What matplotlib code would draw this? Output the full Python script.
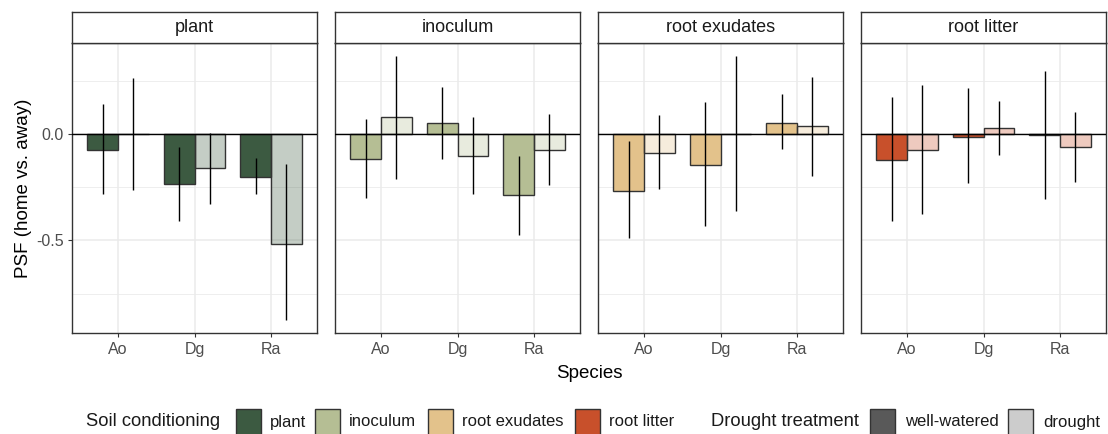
import numpy as np
import matplotlib.pyplot as plt
from matplotlib.patches import Rectangle

plt.rcParams['font.family'] = ['Liberation Sans', 'DejaVu Sans']
plt.rcParams['axes.unicode_minus'] = False

species = ['Ao', 'Dg', 'Ra']
conditioning = ['plant', 'inoculum', 'root exudates', 'root litter']
cond_colors = ['#3C5A41', '#B5BE94', '#E3C28B', '#C8502B']
drought_labels = ['well-watered', 'drought']
drought_colors = ['#595959', '#CCCCCC']

# mean PSF per conditioning, well-watered / drought
ww_mean = {
    'plant': [-0.074, -0.233, -0.201],
    'inoculum': [-0.118, 0.049, -0.288],
    'root exudates': [-0.267, -0.145, 0.053],
    'root litter': [-0.123, -0.013, -0.006],
}
dr_mean = {
    'plant': [0.0, -0.162, -0.516],
    'inoculum': [0.077, -0.105, -0.074],
    'root exudates': [-0.091, 0.0, 0.036],
    'root litter': [-0.074, 0.027, -0.061],
}
# error bar limits (low, high)
ww_lo = {
    'plant': [-0.284, -0.407, -0.280],
    'inoculum': [-0.302, -0.119, -0.473],
    'root exudates': [-0.489, -0.434, -0.069],
    'root litter': [-0.407, -0.231, -0.308],
}
ww_hi = {
    'plant': [0.138, -0.060, -0.115],
    'inoculum': [0.072, 0.220, -0.104],
    'root exudates': [-0.033, 0.149, 0.187],
    'root litter': [0.171, 0.215, 0.297],
}
dr_lo = {
    'plant': [-0.263, -0.329, -0.874],
    'inoculum': [-0.214, -0.284, -0.241],
    'root exudates': [-0.258, -0.362, -0.197],
    'root litter': [-0.374, -0.097, -0.225],
}
dr_hi = {
    'plant': [0.264, 0.006, -0.142],
    'inoculum': [0.363, 0.077, 0.093],
    'root exudates': [0.088, 0.363, 0.269],
    'root litter': [0.231, 0.156, 0.104],
}

W, H = 1108, 434
fig = plt.figure(figsize=(W / 100, H / 100), dpi=100)

panel_x = [72, 335, 598, 861]
panel_w = 245
top, bottom, strip_top = 43.3, 333.3, 11.7

all_vals = np.concatenate([np.ravel(list(d.values())) for d in (ww_lo, ww_hi, dr_lo, dr_hi)])
rng = all_vals.max() - all_vals.min()
ylim = (all_vals.min() - 0.05 * rng, all_vals.max() + 0.05 * rng)

x = np.arange(len(species))
edge = '#333333'
for k, cond in enumerate(conditioning):
    ax = fig.add_axes([panel_x[k] / W, 1 - bottom / H, panel_w / W, (bottom - top) / H])
    ax.set_xlim(-0.6, 2.6)
    ax.set_ylim(*ylim)
    ax.set_yticks([-0.5, 0.0])
    ax.set_yticks([-0.75, -0.25, 0.25], minor=True)
    ax.set_xticks(x)
    ax.set_xticklabels(species)
    ax.grid(which='major', color='#EBEBEB', lw=1.1)
    ax.grid(which='minor', axis='y', color='#EBEBEB', lw=0.6)
    ax.set_axisbelow(True)
    ax.tick_params(which='minor', length=0)
    ax.tick_params(which='major', length=3, color=edge, labelsize=11.5,
                   labelcolor='#4D4D4D', pad=3)
    if k > 0:
        ax.set_yticklabels([])
        ax.tick_params(axis='y', length=0)
    for s in ax.spines.values():
        s.set_color(edge)
        s.set_linewidth(1.0)

    ax.bar(x - 0.2, ww_mean[cond], width=0.4, color=cond_colors[k],
           edgecolor=edge, lw=1.0, zorder=2)
    ax.bar(x + 0.2, dr_mean[cond], width=0.4, color=cond_colors[k], alpha=0.3,
           zorder=2)
    ax.bar(x + 0.2, dr_mean[cond], width=0.4, fill=False,
           edgecolor=edge, lw=1.0, zorder=2)
    ax.axhline(0, color='black', lw=1.0, zorder=3)
    ax.vlines(x - 0.2, ww_lo[cond], ww_hi[cond], color='black', lw=1.0, zorder=4)
    ax.vlines(x + 0.2, dr_lo[cond], dr_hi[cond], color='black', lw=1.0, zorder=4)

    sax = fig.add_axes([panel_x[k] / W, 1 - top / H, panel_w / W, (top - strip_top) / H])
    sax.set_xticks([])
    sax.set_yticks([])
    for s in sax.spines.values():
        s.set_color(edge)
        s.set_linewidth(1.0)
    sax.text(0.5, 0.5, cond, ha='center', va='center', fontsize=13,
             color='#1A1A1A', transform=sax.transAxes)

    if k == 0:
        ax.set_ylabel('PSF (home vs. away)', fontsize=13.5, color='black', labelpad=3)

fig.text((panel_x[0] + panel_x[-1] + panel_w) / 2 / W, 1 - 373 / H, 'Species',
         ha='center', va='center', fontsize=13.5)

# legend
ly = 422
def key(x0, color):
    fig.add_artist(Rectangle((x0 / W, 1 - (ly + 13) / H), 25 / W, 26 / H,
                             transform=fig.transFigure, facecolor=color,
                             edgecolor=edge, lw=1.0))

def label(x0, s, size=12):
    fig.text(x0 / W, 1 - ly / H, s, ha='left', va='center', fontsize=size,
             color='#1A1A1A')

label(86, 'Soil conditioning', 13.2)
key_x = [236, 315, 428, 575]
for kx, c, lab in zip(key_x, cond_colors, conditioning):
    key(kx, c)
    label(kx + 34, lab)
label(711, 'Drought treatment', 13.2)
for kx, c, lab in zip([870, 1008], drought_colors, drought_labels):
    key(kx, c)
    label(kx + 35, lab)

fig.savefig('out.png', dpi=100)
